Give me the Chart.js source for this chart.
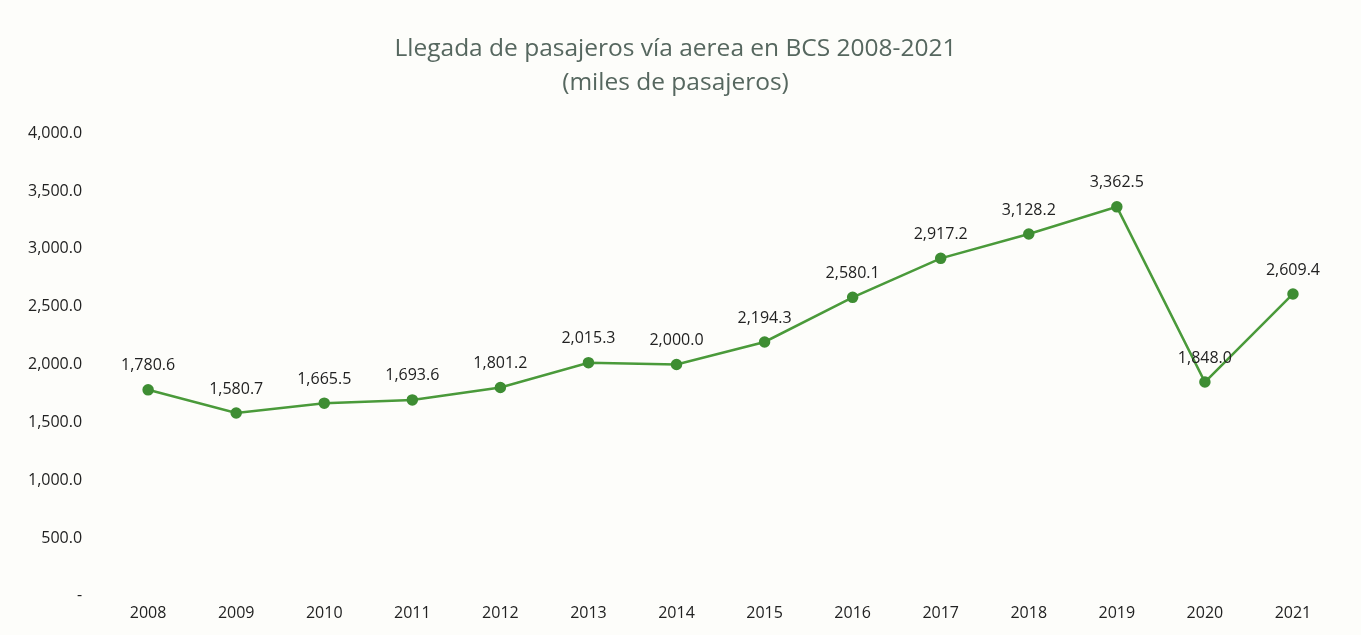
<!DOCTYPE html>
<html>
<head>
<meta charset="utf-8">
<script src="https://cdn.jsdelivr.net/npm/chart.js@4.4.1/dist/chart.umd.min.js"></script>
<style>
  html, body { margin: 0; padding: 0; background: #fdfdfa; }
  #wrap { width: 1361px; height: 635px; }
</style>
</head>
<body>
<div id="wrap"><canvas id="myChart" width="1361" height="635"></canvas></div>
<script>
const years = ["2008", "2009", "2010", "2011", "2012", "2013", "2014", "2015", "2016", "2017", "2018", "2019", "2020", "2021"];
const pasajeros = [1780.6, 1580.7, 1665.5, 1693.6, 1801.2, 2015.3, 2000.0, 2194.3, 2580.1, 2917.2, 3128.2, 3362.5, 1848.0, 2609.4];
const yTicks = [0, 500, 1000, 1500, 2000, 2500, 3000, 3500, 4000];

const fmt = (v) => v.toLocaleString("en-US", { minimumFractionDigits: 1, maximumFractionDigits: 1 });

// etiquetas de datos encima de cada punto
const labelPlugin = {
  id: "pointLabels",
  afterDatasetsDraw(chart) {
    const ctx = chart.ctx;
    const meta = chart.getDatasetMeta(0);
    ctx.save();
    ctx.font = "16px 'Open Sans'";
    ctx.fillStyle = "#222222";
    ctx.textAlign = "center";
    ctx.textBaseline = "middle";
    meta.data.forEach((pt, i) => {
      ctx.fillText(fmt(pasajeros[i]), pt.x, pt.y - 24);
    });
    ctx.restore();
  },
};

let myChart = document.getElementById("myChart").getContext("2d");

let popChart = new Chart(myChart, {
  type: "line",
  data: {
    labels: years,
    datasets: [
      {
        data: pasajeros,
        fill: false,
        tension: 0,
        borderColor: "#4a9a3a",
        borderWidth: 2.5,
        backgroundColor: "#3e8d33",
        pointBackgroundColor: "#3e8d33",
        pointBorderColor: "#3e8d33",
        pointRadius: 4.5,
      },
    ],
  },
  plugins: [labelPlugin],
  options: {
    responsive: false,
    animation: false,
    layout: {
      padding: { left: 14, right: 24, top: 0, bottom: 12 },
    },
    plugins: {
      legend: { display: false },
      tooltip: { enabled: false },
      title: {
        display: true,
        text: ["Llegada de pasajeros vía aerea en BCS 2008-2021", "(miles de pasajeros)"],
        color: "#56675f",
        font: { family: "'Open Sans'", size: 24.5, weight: "normal", lineHeight: 1.39 },
        padding: { top: 32, bottom: 33 },
      },
    },
    scales: {
      x: {
        offset: true,
        grid: { display: false },
        border: { display: false },
        ticks: {
          color: "#222222",
          font: { family: "'Open Sans'", size: 16 },
          padding: 0,
        },
      },
      y: {
        min: 0,
        max: 4000,
        afterBuildTicks: (axis) => {
          axis.ticks = yTicks.map((v) => ({ value: v }));
        },
        grid: { display: false },
        border: { display: false },
        ticks: {
          color: "#222222",
          font: { family: "'Open Sans'", size: 16 },
          padding: 14,
          callback: function (value) {
            return value === 0 ? "-" : fmt(value);
          },
        },
      },
    },
  },
});
</script>
</body>
</html>
